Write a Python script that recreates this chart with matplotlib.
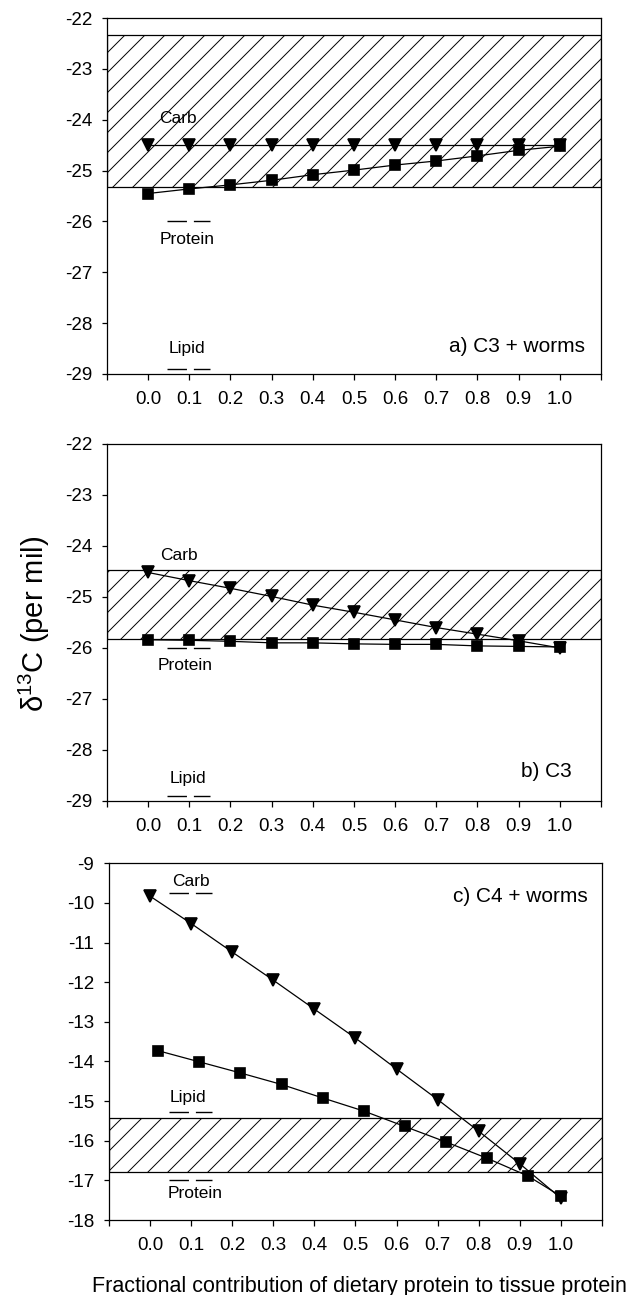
import matplotlib
matplotlib.use("Agg")
import matplotlib.pyplot as plt
import numpy as np

DPI = 120
k = 100 / DPI  # keep pixel sizes the same as at 100 dpi, hatch gets a wider spacing

plt.rcParams['font.family'] = ['Liberation Sans', 'DejaVu Sans']
plt.rcParams['axes.unicode_minus'] = False
plt.rcParams['mathtext.default'] = 'regular'
plt.rcParams['hatch.linewidth'] = 0.7 * k

# fraction of dietary protein
frac = [0.0, 0.1, 0.2, 0.3, 0.4, 0.5, 0.6, 0.7, 0.8, 0.9, 1.0]
frac_c_sq = [0.02, 0.12, 0.22, 0.32, 0.42, 0.52, 0.62, 0.72, 0.82, 0.92, 1.0]

# a) C3 + worms
a_carb = [-24.5] * 11
a_prot = [-25.45, -25.36, -25.28, -25.19, -25.08, -24.99, -24.89, -24.81, -24.71, -24.6, -24.52]
a_band = (-25.33, -22.34)

# b) C3
b_carb = [-24.52, -24.68, -24.83, -24.99, -25.16, -25.3, -25.45, -25.6, -25.73, -25.86, -26.0]
b_prot = [-25.84, -25.85, -25.87, -25.9, -25.9, -25.92, -25.93, -25.93, -25.96, -25.97, -25.98]
b_band = (-25.83, -24.48)

# c) C4 + worms
c_carb = [-9.83, -10.52, -11.24, -11.95, -12.68, -13.41, -14.19, -14.96, -15.76, -16.58, -17.45]
c_prot = [-13.73, -14.01, -14.29, -14.58, -14.92, -15.25, -15.64, -16.03, -16.44, -16.89, -17.4]
c_band = (-16.78, -15.43)

# diet source values (short dashed marks) and their labels
src_x = [0.047, 0.151]
a_src = {'Protein': -26.0, 'Lipid': -28.9}
b_src = {'Protein': -26.0, 'Lipid': -28.9}
c_src = {'Carb': -9.76, 'Lipid': -15.28, 'Protein': -16.99}

a_txt = [('Carb', 0.073, -23.97), ('Protein', 0.095, -26.36), ('Lipid', 0.095, -28.49)]
b_txt = [('Carb', 0.076, -24.18), ('Protein', 0.09, -26.35), ('Lipid', 0.098, -28.56)]
c_txt = [('Carb', 0.1, -9.46), ('Lipid', 0.093, -14.9), ('Protein', 0.11, -17.32)]

panels = [
    dict(rect=[0.170, 0.7112, 0.787, 0.2748], xs=frac, carb=a_carb, prot=a_prot, band=a_band,
         src=a_src, txt=a_txt, ylim=(-29, -22), title='a) C3 + worms', tpos=(1.061, -28.46)),
    dict(rect=[0.170, 0.3815, 0.787, 0.2757], xs=frac, carb=b_carb, prot=b_prot, band=b_band,
         src=b_src, txt=b_txt, ylim=(-29, -22), title='b) C3', tpos=(1.03, -28.42)),
    dict(rect=[0.1735, 0.0579, 0.785, 0.2755], xs=frac_c_sq, carb=c_carb, prot=c_prot, band=c_band,
         src=c_src, txt=c_txt, ylim=(-18, -9), title='c) C4 + worms', tpos=(1.066, -9.84)),
]

fig = plt.figure(figsize=(628 / DPI, 1295 / DPI), dpi=DPI)

for p in panels:
    ax = fig.add_axes(p['rect'])
    ax.axhspan(p['band'][0], p['band'][1], facecolor='white', edgecolor='black',
               hatch='//', linewidth=0.9 * k, zorder=1)
    ax.plot(frac, p['carb'], color='black', lw=0.9 * k, marker='v', ms=8 * k,
            markerfacecolor='black', zorder=3)
    ax.plot(p['xs'], p['prot'], color='black', lw=0.9 * k, marker='s', ms=7.5 * k,
            markerfacecolor='black', zorder=4)
    for name, val in p['src'].items():
        ax.plot(src_x, [val, val], color='black', lw=1.0 * k, linestyle=(0, (14, 5)), zorder=2)
    for name, tx, ty in p['txt']:
        ax.text(tx, ty, name, ha='center', va='center', fontsize=12.5 * k)
    ax.text(p['tpos'][0], p['tpos'][1], p['title'], ha='right', va='center', fontsize=15 * k)
    ax.set_xlim(-0.1, 1.1)
    ax.set_ylim(*p['ylim'])
    ax.set_xticks(np.round(np.arange(-0.1, 1.15, 0.1), 1))
    ax.set_xticklabels([''] + ['%.1f' % v for v in frac] + [''])
    ax.set_yticks(np.arange(p['ylim'][0], p['ylim'][1] + 1, 1))
    ax.tick_params(axis='both', direction='out', width=0.9 * k, labelsize=13.5 * k)
    ax.tick_params(axis='x', length=4.5 * k, pad=8 * k)
    ax.tick_params(axis='y', length=3.5 * k, pad=7 * k)
    for s in ax.spines.values():
        s.set_linewidth(0.9 * k)

fig.text(0.054, 0.518, 'δ$^{13}$C (per mil)', rotation=90, ha='center', va='center', fontsize=21 * k)
fig.text(0.1465, 0.0025, 'Fractional contribution of dietary protein to tissue protein',
         ha='left', va='baseline', fontsize=15.5 * k)

fig.savefig('out.png', dpi=DPI)
